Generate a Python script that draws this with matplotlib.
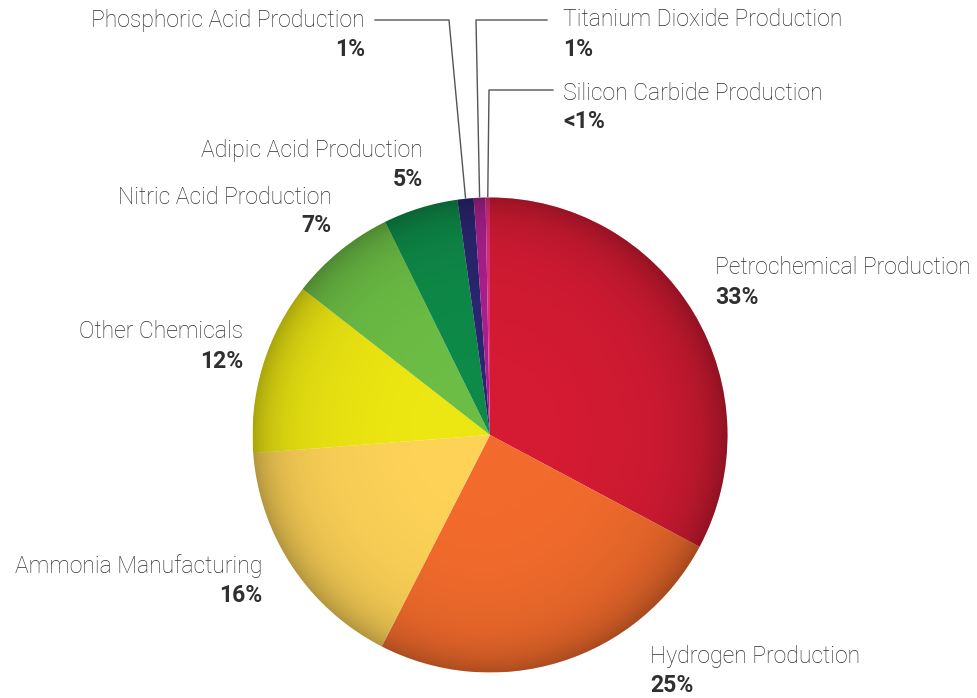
import numpy as np
import matplotlib
matplotlib.use("Agg")
from matplotlib import pyplot as plt

# data
categories = ["Petrochemical Production", "Hydrogen Production", "Ammonia Manufacturing",
              "Other Chemicals", "Nitric Acid Production", "Adipic Acid Production",
              "Phosphoric Acid Production", "Titanium Dioxide Production",
              "Silicon Carbide Production"]
shares = [32.9, 24.8, 16.3, 11.8, 7.2, 5.1, 1.1, 0.8, 0.3]
pct_labels = ["33%", "25%", "16%", "12%", "7%", "5%", "1%", "1%", "<1%"]
colors = ["#D41B33", "#F26B2C", "#FDD257", "#ECE612", "#6CBD45", "#0E8A48",
          "#2A2670", "#A8208C", "#E0307A"]

W, H = 977, 698
fig = plt.figure(figsize=(W / 100, H / 100), dpi=100)
ax = fig.add_axes([0, 0, 1, 1])

cx, cy, R = 490, H - 435, 237.5
wedges, _ = ax.pie(shares, colors=colors, startangle=90, counterclock=False,
                   center=(cx, cy), radius=R, wedgeprops=dict(linewidth=0))
ax.set_xlim(0, W)
ax.set_ylim(0, H)
ax.set_aspect("equal")
ax.axis("off")

# radial shading to fake the glossy look
n = 600
xs = np.linspace(cx - R, cx + R, n)
ys = np.linspace(cy - R, cy + R, n)
X, Y = np.meshgrid(xs, ys)
r = np.hypot(X - cx, Y - cy) / R
dx = (X - cx) / R
shade = np.zeros((n, n, 4))
shade[..., 3] = np.clip(0.10 * r ** 3 + 0.18 * r ** 12 + 0.05 * np.clip(dx, 0, None) * r ** 2, 0, 1)
img = ax.imshow(shade, extent=(cx - R, cx + R, cy - R, cy + R), origin="lower",
                zorder=3, interpolation="bilinear")
clip = plt.Circle((cx, cy), R, transform=ax.transData)
img.set_clip_path(clip)

txt_color = "#2f2f2f"
name_font = dict(fontsize=16.6, color=txt_color, family="Roboto", fontweight="light")
pct_font = dict(fontsize=16.6, color=txt_color, family="Roboto", fontweight="bold")

# label positions (x, y of name line, alignment) in pixel coordinates
label_pos = [
    (715, 268, "left"),
    (650, 656, "left"),
    (262, 566, "right"),
    (243, 332, "right"),
    (332, 197, "right"),
    (423, 150, "right"),
    (365, 20, "right"),
    (563, 20, "left"),
    (563, 93, "left"),
]

for cat, pct, (x, y, ha) in zip(categories, pct_labels, label_pos):
    ax.text(x, H - y, cat, ha=ha, va="center", **name_font)
    ax.text(x, H - y - 29, pct, ha=ha, va="center", **pct_font)

# leader lines for the three thin slices
leaders = {6: ((375, 20), (449, 20)), 7: ((547, 20), (476, 20)), 8: ((553, 90), (489, 90))}
for i, ((x0, y0), (x1, y1)) in leaders.items():
    w = wedges[i]
    mid = np.deg2rad((w.theta1 + w.theta2) / 2)
    ex, ey = cx + R * np.cos(mid), cy + R * np.sin(mid)
    ax.plot([x0, x1, ex], [H - y0, H - y1, ey + 1], color="#555555", lw=1, zorder=1)

fig.savefig("out.png", dpi=100, facecolor="white")
